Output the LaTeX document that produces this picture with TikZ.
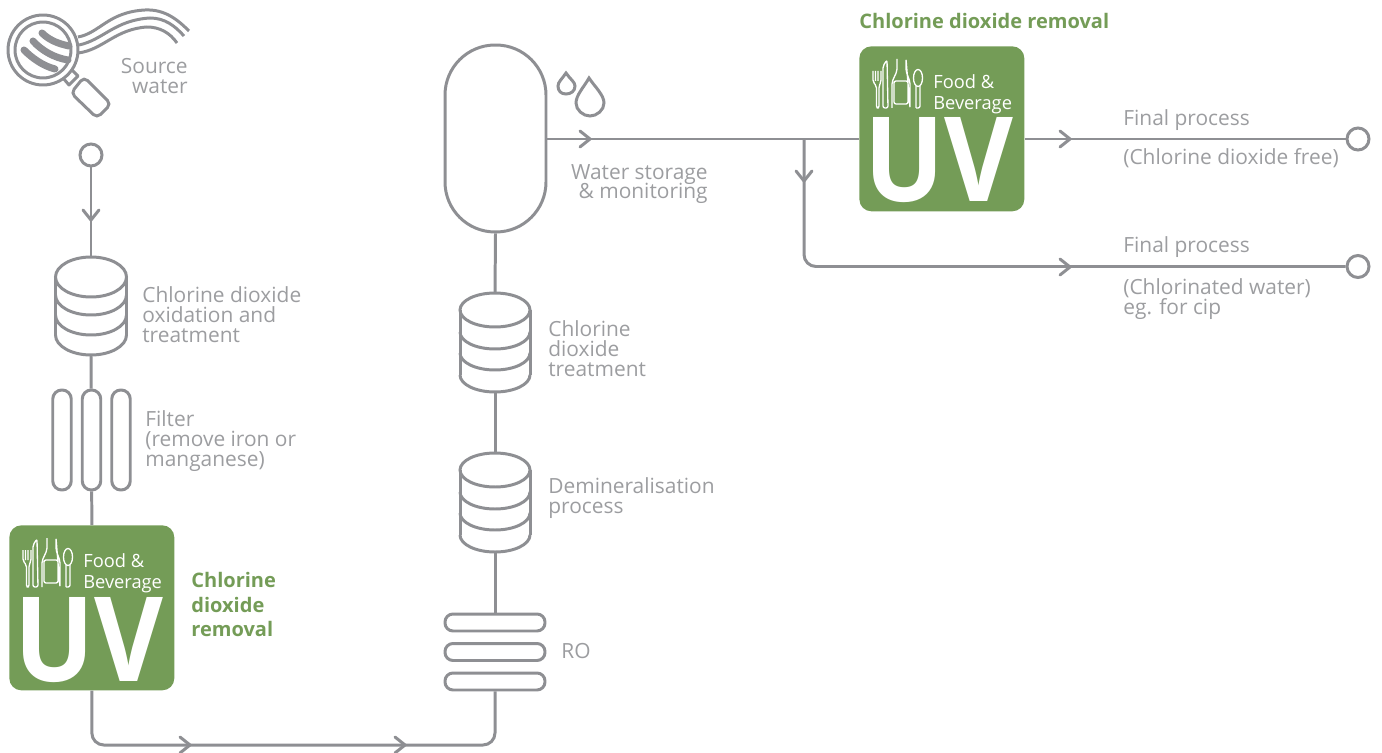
\documentclass[tikz,border=0pt]{standalone}
\usepackage{xcolor}
\usepackage{graphicx}
\usepackage{fontspec}
\setmainfont{Open Sans}
\usetikzlibrary{positioning}

\definecolor{pipegray}{HTML}{8E8F93}
\definecolor{labelgray}{HTML}{9C9DA0}
\definecolor{uvgreen}{HTML}{749C57}
\newcommand{\tightlines}{\lineskiplimit=-5pt\relax}

\tikzset{
    pipe/.style={draw=pipegray, line width=1.7pt},
    vessel/.style={pipe, rectangle, inner sep=0pt, fill=white},
    tube/.style={vessel, rounded corners=0.18cm},
    port/.style={pipe, circle, inner sep=0pt, minimum size=0.44cm, fill=white},
    label/.style={text=labelgray, inner sep=0pt, anchor=north west, align=left, font=\fontsize{11.9}{11.4}\selectfont},
    greenlabel/.style={text=uvgreen, inner sep=0pt, anchor=north west, align=left, font=\fontsize{11.4}{14}\selectfont\bfseries},
    chevR/.pic={\draw[pipegray, line width=1.7pt, line cap=round, line join=round] (-5,-8) -- (5,0) -- (-5,8);},
    chevD/.pic={\draw[pipegray, line width=1.7pt, line cap=round, line join=round] (-8,-5) -- (0,5) -- (8,-5);},
    % stack of three disks
    stackwide/.pic={
        \node[inner sep=0pt, minimum width=1.42cm, minimum height=1.96cm, anchor=north] (-body) at (0,0) {};
        \draw[pipegray, line width=1.7pt, fill=white] (0,20) ellipse[x radius=0.71cm, y radius=0.4cm];
        \draw[pipegray, line width=1.7pt] (-35.5,20) -- (-35.5,78) (35.5,20) -- (35.5,78);
        \foreach \y in {38,58,78}
            \draw[pipegray, line width=1.7pt] (-35.5,\y) arc[start angle=180, end angle=360, x radius=0.71cm, y radius=0.4cm];
    },
    % stack of four disks
    stacktall/.pic={
        \node[inner sep=0pt, minimum width=1.4cm, minimum height=1.98cm, anchor=north] (-body) at (0,0) {};
        \draw[pipegray, line width=1.7pt, fill=white] (0,17) ellipse[x radius=0.7cm, y radius=0.34cm];
        \draw[pipegray, line width=1.7pt] (-35,17) -- (-35,82) (35,17) -- (35,82);
        \foreach \y in {39,60,82}
            \draw[pipegray, line width=1.7pt] (-35,\y) arc[start angle=180, end angle=360, x radius=0.7cm, y radius=0.34cm];
    },
    % green badge, origin at its top left corner
    uvbadge/.pic={
        \node[fill=uvgreen, rounded corners=0.24cm, inner sep=0pt, minimum size=3.3cm, anchor=north west] (-box) at (0,0) {};
        \draw[white, line width=0.75pt, line join=round, rounded corners=0.04cm]
            (14,25) -- (14,36) -- (17.5,40) -- (17.5,62) -- (20,62) -- (20,40) -- (22,36) -- (22,25)
            (16.5,25) -- (16.5,35) (19,25) -- (19,35)
            (24,62) -- (24,20) -- (28,14) -- (29,62) -- cycle
            (33,62) -- (33,36) -- (38,25) -- (38,13) (47,13) -- (47,25) -- (51,36) -- (51,62) -- cycle
            (35,35) -- (49,35) -- (49,58) -- (35,58) -- cycle
            (57,62) -- (57,40) (61,40) -- (61,62) -- (57,62);
        \draw[white, line width=0.75pt] (59,32) ellipse[x radius=0.09cm, y radius=0.17cm];
        \node[text=white, inner sep=0pt, anchor=north west, align=left, font=\fontsize{10.4}{12}\selectfont] (-name) at (74,28) {Food \&\\Beverage};
        \node[text=white, inner sep=0pt, anchor=base, font=\fontsize{67}{67}\selectfont\bfseries] (-mark) at (80,156) {\scalebox{0.9}[1]{UV}};
    }
}

\begin{document}
\begin{tikzpicture}[x=0.02cm, y=-0.02cm]
    \useasboundingbox (0,0) rectangle (1382,753);

    % Vessels on the left
    \node[port] (source) at (91,155) {};
    \pic (stackA) at (91,257) {stackwide};
    \node[tube, minimum width=0.37cm, minimum height=2cm] (filterA) at (62,440) {};
    \node[tube, minimum width=0.37cm, minimum height=2cm] (filterB) at (91.5,440) {};
    \node[tube, minimum width=0.37cm, minimum height=2cm] (filterC) at (121,440) {};
    \pic (uvA) at (9,525) {uvbadge};

    % Vessels in the middle
    \node[vessel, rounded corners=1cm, minimum width=2.02cm, minimum height=3.74cm] (tank) at (495.5,138.5) {};
    \pic (stackB) at (495,293) {stacktall};
    \pic (stackC) at (495,453) {stacktall};
    \node[tube, rounded corners=0.16cm, minimum width=2cm, minimum height=0.34cm] (roA) at (495,622.5) {};
    \node[tube, rounded corners=0.16cm, minimum width=2cm, minimum height=0.34cm] (roB) at (495,652) {};
    \node[tube, rounded corners=0.16cm, minimum width=2cm, minimum height=0.34cm] (roC) at (495,681.5) {};

    % Outlets on the right
    \pic (uvB) at (859,46) {uvbadge};
    \node[port] (finalA) at (1358,139) {};
    \node[port] (finalB) at (1358,266.5) {};
    \coordinate (branch) at (804,139);
    \coordinate (bottom) at (495,745);

    % Connectors
    \draw[pipe] (source) -- (stackA-body.north);
    \draw[pipe] (stackA-body.south) -- (filterB);
    \draw[pipe] (filterB) -- (uvA-box.north);
    \draw[pipe, rounded corners=0.24cm] (uvA-box.south) |- (bottom) -- (roC.south);
    \draw[pipe] (roA.north) -- (stackC-body.south);
    \draw[pipe] (stackC-body.north) -- (stackB-body.south);
    \draw[pipe] (stackB-body.north) -- (tank.south);
    \draw[pipe] (tank.east |- branch) -- (uvB-box.west |- branch);
    \draw[pipe] (uvB-box.east |- finalA) -- (finalA);
    \draw[pipe, rounded corners=0.24cm] (branch) |- (finalB);

    % Flow marks
    \path (91,215) pic {chevD};
    \path (185,745) pic {chevR};
    \path (400,745) pic {chevR};
    \path (585,139) pic {chevR};
    \path (804,176) pic {chevD};
    \path (1065,139) pic {chevR};
    \path (1065,267) pic {chevR};

    % Magnifying glass
    \draw[pipegray, line width=1.7pt] (43,50) circle(0.7cm);
    \draw[pipegray, line width=1.7pt] (43,50) circle(0.56cm);
    \draw[pipegray, line width=4pt, line cap=round] (42,33) .. controls (50,41) and (60,44) .. (69,46);
    \draw[pipegray, line width=4pt, line cap=round] (33,41) .. controls (42,51) and (55,58) .. (68,60);
    \draw[pipegray, line width=4pt, line cap=round] (24,50) .. controls (32,58) and (43,66) .. (55,69);
    \draw[pipegray, line width=1.7pt, line join=round] (72,70) -- (78,76) -- (69,85) -- (63,78);
    \draw[pipegray, line width=1.7pt, rounded corners=0.1cm] (84,77) -- (111,104) -- (97,118) -- (71,93) -- cycle;
    \draw[pipegray, line width=1.7pt] (78,37) .. controls (100,33) and (108,12) .. (145,10) .. controls (165,9) and (178,20) .. (189,31);
    \draw[pipegray, line width=1.7pt] (79,45) .. controls (103,40) and (115,20) .. (150,18) .. controls (165,18) and (175,26) .. (184,36);
    \draw[pipegray, line width=1.7pt] (78,53) .. controls (103,50) and (115,29) .. (147,27) .. controls (160,27) and (170,33) .. (177,43);

    % Drops
    \draw[pipegray, line width=1.7pt] (566,73) .. controls (570,79) and (575,82) .. (575,86) .. controls (575,91) and (571,94) .. (566,94) .. controls (561,94) and (558,91) .. (558,86) .. controls (558,82) and (562,79) .. cycle;
    \draw[pipegray, line width=1.7pt] (589,78) .. controls (595,87) and (604,95) .. (604,103) .. controls (604,110) and (597,116) .. (590,116) .. controls (583,116) and (576,110) .. (576,103) .. controls (576,95) and (584,87) .. cycle;

    % Labels
    \node[label, anchor=north east, align=right] (sourcelabel) at (188,58) {Source\\water};
    \node[label] (stackAlabel) at (142,286.5) {Chlorine dioxide\\oxidation and\\treatment};
    \node[label] (filterlabel) at (145,410) {Filter\\(remove iron or\\manganese)};
    \node[greenlabel] (uvAlabel) at (191,572) {Chlorine\\dioxide\\removal};
    \node[label, anchor=north east, align=right, font=\fontsize{11.9}{10.8}\selectfont\tightlines] (tanklabel) at (708,164) {Water storage\\\& monitoring};
    \node[label] (stackBlabel) at (548,320) {Chlorine\\dioxide\\treatment};
    \node[label] (stackClabel) at (548,477.5) {Demineralisation\\process};
    \node[label] (rolabel) at (561,643) {RO};
    \node[greenlabel] (uvBlabel) at (859,13) {Chlorine dioxide removal};
    \node[label] (finalAtop) at (1123,109) {Final process};
    \node[label] (finalAlabel) at (1123,148) {(Chlorine dioxide free)};
    \node[label] (finalBtop) at (1123,236) {Final process};
    \node[label] (finalBlabel) at (1123,278) {(Chlorinated water)\\eg. for cip};
\end{tikzpicture}
\end{document}
